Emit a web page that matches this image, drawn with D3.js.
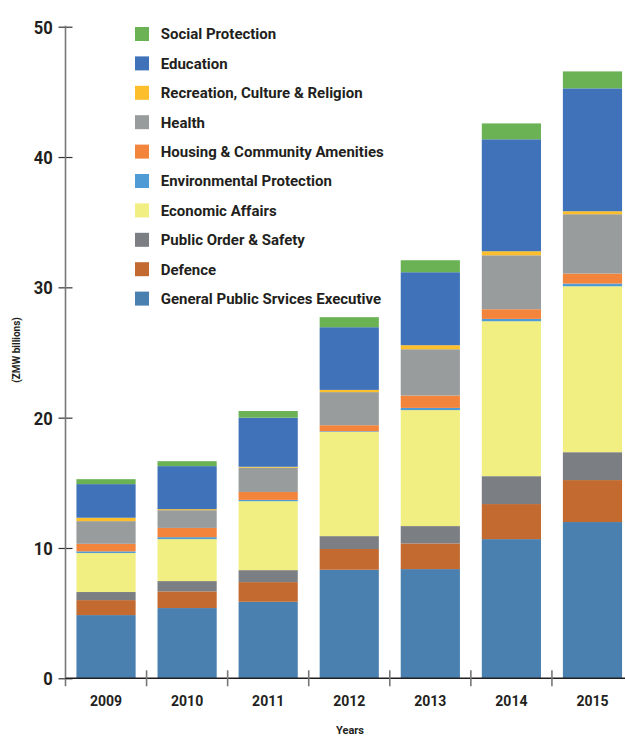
<!DOCTYPE html>
<html>
<head>
<meta charset="utf-8">
<script src="https://cdn.jsdelivr.net/npm/d3@7"></script>
<style>
  html, body { margin: 0; padding: 0; background: #fff; }
  svg { display: block; }
  text { font-family: Roboto, "Liberation Sans", sans-serif; font-weight: bold; fill: #231f20; }
</style>
</head>
<body>
<svg id="chart" width="625" height="738"></svg>
<script>
const years = ["2009", "2010", "2011", "2012", "2013", "2014", "2015"];
const seriesNames = [
  "General Public Srvices Executive",
  "Defence",
  "Public Order & Safety",
  "Economic Affairs",
  "Environmental Protection",
  "Housing & Community Amenities",
  "Health",
  "Recreation, Culture & Religion",
  "Education",
  "Social Protection"
];
const seriesColors = ["#4a80b0", "#c36a30", "#7b7e82", "#f1ee82", "#4f9bd6", "#f3843c", "#999c9c", "#fdbe2b", "#3f72b9", "#6bb255"];
// values (ZMW billions), one array per series, in year order
const generalPublic   = [4.85, 5.39, 5.87, 8.33, 8.38, 10.68, 11.99];
const defence         = [1.15, 1.28, 1.51, 1.59, 1.97, 2.69, 3.22];
const publicOrder     = [0.62, 0.79, 0.92, 0.99, 1.33, 2.14, 2.14];
const economicAffairs = [2.99, 3.22, 5.29, 8.00, 8.90, 11.89, 12.73];
const environmental   = [0.13, 0.15, 0.10, 0.05, 0.17, 0.18, 0.21];
const housing         = [0.58, 0.71, 0.61, 0.46, 0.95, 0.74, 0.77];
const health          = [1.74, 1.36, 1.86, 2.54, 3.55, 4.14, 4.55];
const recreation      = [0.26, 0.08, 0.07, 0.17, 0.31, 0.31, 0.23];
const education       = [2.58, 3.30, 3.77, 4.81, 5.60, 8.59, 9.43];
const socialProt      = [0.38, 0.38, 0.51, 0.77, 0.92, 1.22, 1.30];
const yTicks = [0, 10, 20, 30, 40, 50];
const legendOrder = [9, 8, 7, 6, 5, 4, 3, 2, 1, 0];

const seriesValues = [generalPublic, defence, publicOrder, economicAffairs, environmental,
                      housing, health, recreation, education, socialProt];

const rows = years.map((y, i) => {
  const r = { year: y };
  seriesNames.forEach((n, k) => r[n] = seriesValues[k][i]);
  return r;
});
const stack = d3.stack().keys(seriesNames)(rows);

const svg = d3.select("#chart");
const x0 = 65.5, x1 = 633, yTop = 26.7, yBot = 678.3;

const x = d3.scaleBand().domain(years).range([x0, x1]).paddingInner(0.27).paddingOuter(0.135);
const y = d3.scaleLinear().domain([0, 50]).range([yBot, yTop]);

// bars
svg.append("g").selectAll("g").data(stack).join("g")
  .attr("fill", (d, i) => seriesColors[i])
  .selectAll("rect").data(d => d).join("rect")
  .attr("x", d => x(d.data.year))
  .attr("width", x.bandwidth())
  .attr("y", d => y(d[1]))
  .attr("height", d => y(d[0]) - y(d[1]));

// y axis
const yAxis = svg.append("g").attr("transform", `translate(${x0},0)`)
  .call(d3.axisLeft(y).tickValues(yTicks).tickSize(7).tickPadding(8));
yAxis.select(".domain").remove();
yAxis.selectAll(".tick line").attr("x2", 7).attr("x1", -7).attr("stroke", "#333").attr("stroke-width", 1.2);
yAxis.selectAll(".tick text").attr("x", -14).style("font-size", "18px").attr("dy", "0.36em")
  .attr("transform", "scale(0.92,1)");
svg.append("line").attr("x1", x0).attr("x2", x0).attr("y1", yTop - 1).attr("y2", yBot + 8)
  .attr("stroke", "#777").attr("stroke-width", 1.6);

// x axis
const xAxis = svg.append("g").attr("transform", `translate(0,${yBot})`)
  .call(d3.axisBottom(x).tickSize(0).tickPadding(18));
xAxis.select(".domain").remove();
xAxis.selectAll(".tick text").style("font-size", "14px");
svg.append("line").attr("x1", x0).attr("x2", 625).attr("y1", yBot).attr("y2", yBot)
  .attr("stroke", "#231f20").attr("stroke-width", 1.5);
const step = x.step(), gap = step * x.paddingInner();
svg.append("g").selectAll("line").data(years.slice(1)).join("line")
  .attr("x1", d => x(d) - gap / 2).attr("x2", d => x(d) - gap / 2)
  .attr("y1", yBot - 8).attr("y2", yBot + 8)
  .attr("stroke", "#777").attr("stroke-width", 1.6);

// axis titles
svg.append("text").attr("x", 350).attr("y", 730).attr("text-anchor", "middle")
  .attr("dy", "0.35em").style("font-size", "11px").text("Years");
svg.append("text").attr("transform", "translate(20,350) rotate(-90)").attr("text-anchor", "middle")
  .style("font-size", "10px").text("(ZMW billions)");

// legend
const lg = svg.append("g").attr("transform", "translate(135,34)");
const item = lg.selectAll("g").data(legendOrder).join("g")
  .attr("transform", (d, i) => `translate(0,${i * 29.4})`);
item.append("rect").attr("x", 0).attr("y", -7).attr("width", 14).attr("height", 14)
  .attr("fill", d => seriesColors[d]);
item.append("text").attr("x", 25.7).attr("dy", "0.36em").style("font-size", "15px")
  .text(d => seriesNames[d]);
</script>
</body>
</html>
